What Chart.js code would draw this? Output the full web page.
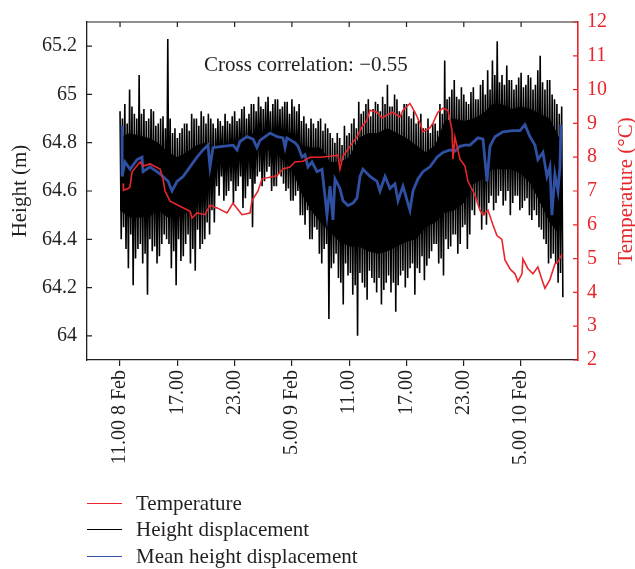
<!DOCTYPE html>
<html>
<head>
<meta charset="utf-8">
<script src="https://cdn.jsdelivr.net/npm/chart.js@4.4.1/dist/chart.umd.min.js"></script>
<style>
  body { margin: 0; background: #fff; }
  #wrap { position: relative; width: 635px; height: 569px; }
  #legend { position: absolute; left: 87px; top: 490px; font: 21px "Liberation Serif", serif; color: #231f20; }
  #legend div { display: flex; align-items: center; height: 26.5px; }
  #legend span { display: inline-block; width: 35px; border-top: 1.5px solid; margin-right: 14px; }
</style>
</head>
<body>
<div id="wrap">
  <canvas id="chart" width="635" height="569"></canvas>
  <div id="legend"></div>
</div>
<script>
// hours after 11.00 on 8 Feb
const tickHours = [0, 6, 12, 18, 24, 30, 36, 42];
const tickLabels = ['11.00 8 Feb', '17.00', '23.00', '5.00 9 Feb', '11.00', '17.00', '23.00', '5.00 10 Feb'];
const heightTicks = [64, 64.2, 64.4, 64.6, 64.8, 65, 65.2];
const tempTicks = [2, 3, 4, 5, 6, 7, 8, 9, 10, 11, 12];

// height displacement: swings read every half hour (two highs, two lows each)
const heightStep = 0.5;
const heightHigh = [
  64.93, 64.96, 65.02, 64.92, 65.08, 64.94, 64.90, 64.93, 64.88, 64.91,
  65.23, 64.84, 64.82, 64.86, 64.88, 64.92, 64.90, 64.93, 64.88, 64.90,
  64.86, 64.89, 64.92, 64.88, 64.93, 64.90, 64.95, 64.92, 64.96, 64.99,
  64.94, 64.99, 64.96, 64.98, 64.95, 64.97, 64.98, 64.93, 64.89, 64.88,
  64.90, 64.86, 64.90, 64.88, 64.84, 64.80, 64.82, 64.87, 64.84, 64.90,
  64.97, 64.93, 64.98, 64.94, 64.96, 64.99, 65.04, 64.95, 64.98, 64.92,
  64.96, 64.90, 64.88, 64.92, 64.86, 64.84, 64.88, 64.96, 65.14, 64.99,
  65.06, 64.98, 65.00, 64.96, 65.03, 64.98, 65.06, 65.10, 65.14, 65.22,
  65.08, 65.12, 65.06, 65.04, 65.09, 65.04, 65.07, 65.04, 65.16, 65.02,
  65.06, 64.98, 64.92
];
const heightHighB = [
  64.90, 64.88, 64.95, 64.90, 64.92, 64.89, 64.94, 64.87, 64.90, 64.86,
  64.90, 64.86, 64.84, 64.88, 64.85, 64.90, 64.87, 64.91, 64.92, 64.88,
  64.90, 64.87, 64.89, 64.91, 64.89, 64.94, 64.90, 64.96, 64.93, 64.95,
  64.97, 64.93, 64.98, 64.94, 64.97, 64.92, 64.95, 64.96, 64.91, 64.86,
  64.88, 64.89, 64.85, 64.86, 64.82, 64.84, 64.79, 64.83, 64.88, 64.86,
  64.92, 64.96, 64.91, 64.97, 64.93, 64.96, 64.95, 65.00, 64.93, 64.96,
  64.91, 64.93, 64.89, 64.86, 64.90, 64.88, 64.85, 64.92, 64.98, 65.02,
  64.99, 65.03, 64.97, 65.01, 64.98, 65.04, 65.00, 65.02, 65.08, 65.05,
  65.04, 65.06, 65.02, 65.07, 65.03, 65.08, 65.02, 65.10, 65.05, 65.06,
  65.00, 64.96, 64.95
];
const heightLow = [
  64.45, 64.28, 64.21, 64.36, 64.30, 64.17, 64.35, 64.30, 64.38, 64.40,
  64.28, 64.21, 64.31, 64.38, 64.30, 64.27, 64.36, 64.40, 64.42, 64.47,
  64.58, 64.56, 64.60, 64.55, 64.62, 64.53, 64.62, 64.45, 64.66, 64.62,
  64.68, 64.60, 64.62, 64.66, 64.60, 64.56, 64.58, 64.50, 64.46, 64.40,
  64.45, 64.34, 64.36, 64.07, 64.30, 64.24, 64.13, 64.25, 64.17, 64.00,
  64.22, 64.15, 64.24, 64.18, 64.13, 64.22, 64.18, 64.10, 64.25, 64.20,
  64.28, 64.17, 64.26, 64.23, 64.32, 64.38, 64.30, 64.25, 64.36, 64.42,
  64.34, 64.45, 64.36, 64.52, 64.56, 64.44, 64.46, 64.58, 64.55, 64.60,
  64.56, 64.50, 64.58, 64.52, 64.56, 64.50, 64.52, 64.45, 64.40, 64.30,
  64.34, 64.22, 64.16
];
const heightLowB = [
  64.40, 64.36, 64.42, 64.32, 64.38, 64.34, 64.40, 64.37, 64.33, 64.42,
  64.38, 64.35, 64.40, 64.33, 64.42, 64.36, 64.44, 64.38, 64.47, 64.52,
  64.62, 64.66, 64.58, 64.64, 64.60, 64.66, 64.57, 64.65, 64.63, 64.68,
  64.64, 64.70, 64.62, 64.67, 64.63, 64.61, 64.56, 64.60, 64.50, 64.52,
  64.40, 64.44, 64.30, 64.38, 64.28, 64.34, 64.22, 64.30, 64.26, 64.21,
  64.26, 64.20, 64.27, 64.22, 64.24, 64.19, 64.25, 64.22, 64.21, 64.27,
  64.24, 64.30, 64.28, 64.33, 64.29, 64.35, 64.38, 64.32, 64.40, 64.37,
  64.42, 64.38, 64.46, 64.42, 64.50, 64.53, 64.50, 64.55, 64.52, 64.58,
  64.54, 64.60, 64.55, 64.58, 64.53, 64.57, 64.48, 64.50, 64.44, 64.38,
  64.32, 64.30, 64.26
];
// dense body of the height record, top and bottom, every hour
const coreStep = 1;
const coreHigh = [
  64.82, 64.84, 64.83, 64.82, 64.80, 64.76, 64.74, 64.76, 64.79, 64.80,
  64.78, 64.79, 64.80, 64.82, 64.84, 64.84, 64.85, 64.84, 64.84, 64.79,
  64.78, 64.78, 64.72, 64.72, 64.74, 64.82, 64.84, 64.84, 64.86, 64.84,
  64.82, 64.79, 64.76, 64.79, 64.89, 64.90, 64.89, 64.90, 64.92, 64.96,
  64.96, 64.94, 64.95, 64.94, 64.92, 64.90, 64.82
];
const coreLow = [
  64.52, 64.49, 64.49, 64.49, 64.52, 64.49, 64.49, 64.51, 64.55, 64.62,
  64.71, 64.72, 64.73, 64.73, 64.77, 64.77, 64.77, 64.73, 64.69, 64.59,
  64.52, 64.47, 64.43, 64.39, 64.37, 64.37, 64.35, 64.34, 64.35, 64.37,
  64.39, 64.40, 64.45, 64.47, 64.51, 64.52, 64.55, 64.63, 64.65, 64.69,
  64.69, 64.69, 64.67, 64.63, 64.55, 64.47, 64.42
];

// mean height displacement
const meanHours = [
  0.21, 0.22, 0.52, 1.05, 1.78, 2.30, 2.41, 3.14, 3.87, 4.50,
  5.03, 5.44, 5.97, 6.60, 7.33, 8.06, 8.69, 9.21, 9.42, 9.74,
  10.78, 11.83, 12.25, 12.56, 13.30, 13.93, 14.34, 14.66, 15.71, 16.44,
  17.07, 17.28, 17.48, 18.32, 18.64, 19.06, 19.37, 19.68, 20.10, 20.63,
  21.15, 21.46, 21.67, 21.99, 22.30, 22.51, 23.03, 23.35, 23.87, 24.40,
  24.81, 25.13, 25.44, 26.18, 26.91, 27.22, 27.75, 28.27, 28.79, 29.11,
  29.63, 30.36, 30.68, 31.20, 31.72, 32.46, 33.19, 33.82, 34.55, 35.07,
  35.60, 36.12, 36.65, 37.48, 38.01, 38.43, 38.74, 39.26, 40.10, 41.15,
  41.88, 42.40, 42.93, 43.45, 43.76, 44.29, 44.71, 45.02, 45.23, 45.54,
  45.86, 46.07, 46.17
];
const meanHeight = [
  64.87, 64.66, 64.72, 64.69, 64.73, 64.74, 64.68, 64.70, 64.68, 64.66,
  64.64, 64.60, 64.64, 64.66, 64.70, 64.74, 64.77, 64.79, 64.70, 64.78,
  64.785, 64.79, 64.77, 64.805, 64.825, 64.815, 64.78, 64.81, 64.84, 64.825,
  64.82, 64.78, 64.82, 64.80, 64.785, 64.74, 64.75, 64.70, 64.72, 64.68,
  64.69, 64.58, 64.50, 64.62, 64.48, 64.65, 64.61, 64.56, 64.54, 64.55,
  64.57, 64.66, 64.69, 64.66, 64.64, 64.60, 64.66, 64.61, 64.63, 64.56,
  64.62, 64.52, 64.60, 64.65, 64.68, 64.70, 64.74, 64.76, 64.77, 64.765,
  64.785, 64.79, 64.79, 64.82, 64.815, 64.64, 64.785, 64.825, 64.845, 64.85,
  64.85, 64.875, 64.825, 64.79, 64.73, 64.76, 64.66, 64.70, 64.50, 64.67,
  64.60, 64.70, 64.875
];

// temperature
const tempHours = [
  0.33, 0.36, 0.90, 1.05, 1.26, 2.09, 2.41, 3.14, 4.19, 4.50,
  4.71, 5.24, 6.28, 7.33, 7.54, 8.06, 8.90, 9.42, 10.16, 11.20,
  11.83, 12.77, 13.61, 13.82, 14.45, 14.87, 16.44, 17.07, 17.80, 18.32,
  19.16, 19.89, 20.94, 21.99, 22.83, 23.03, 23.35, 24.08, 24.81, 25.34,
  25.86, 26.18, 26.91, 27.43, 27.95, 28.58, 29.32, 29.63, 30.36, 30.89,
  31.41, 31.72, 32.46, 32.77, 33.29, 33.82, 34.34, 34.76, 34.87, 35.07,
  35.60, 36.12, 36.44, 36.96, 37.17, 37.69, 38.01, 38.53, 39.05, 39.47,
  39.99, 40.31, 40.83, 41.36, 41.67, 42.09, 42.19, 42.72, 43.24, 43.76,
  44.18, 44.50, 45.02, 45.54, 45.86, 46.28
];
const tempValues = [
  7.22, 7.02, 7.08, 7.13, 7.57, 7.86, 7.74, 7.80, 7.65, 7.36,
  7.00, 6.70, 6.55, 6.40, 6.20, 6.35, 6.30, 6.58, 6.50, 6.35,
  6.64, 6.30, 6.35, 6.72, 7.00, 7.36, 7.45, 7.65, 7.71, 7.86,
  7.88, 8.00, 8.00, 8.03, 8.06, 7.65, 8.03, 8.32, 8.60, 8.90,
  9.10, 9.39, 9.33, 9.16, 9.25, 9.33, 9.19, 9.39, 9.59, 9.33,
  9.01, 8.75, 8.87, 9.01, 9.33, 9.45, 9.39, 8.81, 7.94, 8.60,
  7.94, 7.74, 7.28, 7.00, 6.87, 6.43, 6.29, 6.43, 6.00, 5.68,
  5.57, 4.96, 4.70, 4.55, 4.32, 4.55, 4.99, 4.70, 4.55, 4.75,
  4.38, 4.12, 4.38, 4.84, 4.90, 5.13
];

const red = '#e8262b';
const blue = '#2f50a3';
const ink = '#231f20';
const serif = '"Liberation Serif", serif';

Chart.defaults.font.family = serif;
Chart.defaults.color = ink;

// zig-zag through the swings of each half hour
const heightPoints = [];
heightHigh.forEach((v, i) => {
  const t = i * heightStep;
  heightPoints.push({ x: t, y: v });
  heightPoints.push({ x: t + heightStep / 4, y: heightLowB[i] });
  heightPoints.push({ x: t + heightStep / 2, y: heightHighB[i] });
  heightPoints.push({ x: t + heightStep * 3 / 4, y: heightLow[i] });
});

const decorations = {
  id: 'decorations',
  afterDraw(chart) {
    const { ctx, chartArea: a, scales } = chart;
    ctx.save();
    ctx.lineWidth = 1.2;
    ctx.strokeStyle = ink;
    ctx.beginPath();
    ctx.moveTo(a.left, a.top);
    ctx.lineTo(a.right, a.top);
    scales.x.ticks.forEach(t => {
      const px = scales.x.getPixelForValue(t.value);
      ctx.moveTo(px, a.top);
      ctx.lineTo(px, a.top + 5);
    });
    scales.y.ticks.forEach(t => {
      const py = scales.y.getPixelForValue(t.value);
      ctx.moveTo(a.left, py);
      ctx.lineTo(a.left + 5, py);
    });
    ctx.stroke();
    ctx.strokeStyle = red;
    ctx.beginPath();
    scales.y1.ticks.forEach(t => {
      const py = scales.y1.getPixelForValue(t.value);
      ctx.moveTo(a.right, py);
      ctx.lineTo(a.right - 5, py);
    });
    ctx.stroke();

    ctx.font = '21px ' + serif;
    ctx.fillStyle = ink;
    ctx.textBaseline = 'alphabetic';
    ctx.fillText('Cross correlation: \u22120.55', a.left + 117, a.top + 49);

    ctx.fillStyle = red;
    ctx.textAlign = 'center';
    ctx.textBaseline = 'middle';
    ctx.translate(chart.width - 9, (a.top + a.bottom) / 2);
    ctx.rotate(-Math.PI / 2);
    ctx.fillText('Temperature (\u00b0C)', 0, 0);
    ctx.restore();
  }
};

const chart = new Chart(document.getElementById('chart'), {
  type: 'line',
  data: {
    datasets: [{
      label: 'Temperature',
      data: tempHours.map((h, i) => ({ x: h, y: tempValues[i] })),
      yAxisID: 'y1',
      borderColor: red,
      borderWidth: 1.6,
      order: 1
    }, {
      label: 'Height displacement',
      data: heightPoints,
      yAxisID: 'y',
      borderColor: '#000',
      borderWidth: 1.6,
      borderJoinStyle: 'bevel',
      order: 3
    }, {
      label: 'Mean height displacement',
      data: meanHours.map((h, i) => ({ x: h, y: meanHeight[i] })),
      yAxisID: 'y',
      borderColor: blue,
      borderWidth: 2.8,
      order: 2
    }, {
      data: coreHigh.map((v, i) => ({ x: i * coreStep, y: v })),
      yAxisID: 'y',
      borderWidth: 0,
      borderColor: 'rgba(0,0,0,0)',
      order: 4
    }, {
      data: coreLow.map((v, i) => ({ x: i * coreStep, y: v })),
      yAxisID: 'y',
      borderWidth: 0,
      borderColor: 'rgba(0,0,0,0)',
      backgroundColor: '#000',
      fill: 3,
      order: 4
    }]
  },
  options: {
    responsive: false,
    animation: false,
    layout: { padding: { top: 15, left: 0, right: 0, bottom: 0 } },
    elements: { point: { radius: 0 }, line: { tension: 0 } },
    plugins: { legend: { display: false }, tooltip: { enabled: false } },
    scales: {
      x: {
        type: 'linear',
        min: -3.46,
        max: 47.96,
        afterBuildTicks: s => { s.ticks = tickHours.map(v => ({ value: v })); },
        afterFit: s => { s.height = 209; },
        grid: { drawOnChartArea: false, drawTicks: true, tickLength: 6, color: ink, lineWidth: 1.2 },
        border: { color: ink, width: 1.3 },
        ticks: {
          autoSkip: false,
          minRotation: 90,
          maxRotation: 90,
          padding: 4,
          font: { size: 20 },
          callback: v => tickLabels[tickHours.indexOf(v)]
        }
      },
      y: {
        position: 'left',
        min: 63.9,
        max: 65.3,
        afterBuildTicks: s => { s.ticks = heightTicks.map(v => ({ value: v })); },
        afterFit: s => { s.width = 87; },
        grid: { drawOnChartArea: false, drawTicks: false },
        border: { color: ink, width: 1.3 },
        ticks: { padding: 10, font: { size: 20 }, callback: v => String(Number(v.toFixed(1))) },
        title: { display: true, text: 'Height (m)', font: { size: 21 }, padding: { top: 8, bottom: 0 } }
      },
      y1: {
        position: 'right',
        min: 2,
        max: 12,
        afterBuildTicks: s => { s.ticks = tempTicks.map(v => ({ value: v })); },
        afterFit: s => { s.width = 57; },
        grid: { drawOnChartArea: false, drawTicks: false },
        border: { color: red, width: 1.6 },
        ticks: { padding: 9, color: red, font: { size: 20 } }
      }
    }
  },
  plugins: [decorations]
});

// legend below the plot, one entry per named series
const legend = document.getElementById('legend');
chart.data.datasets.filter(ds => ds.label).forEach(ds => {
  const row = document.createElement('div');
  const swatch = document.createElement('span');
  swatch.style.borderColor = ds.borderColor;
  row.appendChild(swatch);
  row.appendChild(document.createTextNode(ds.label));
  legend.appendChild(row);
});
</script>
</body>
</html>
